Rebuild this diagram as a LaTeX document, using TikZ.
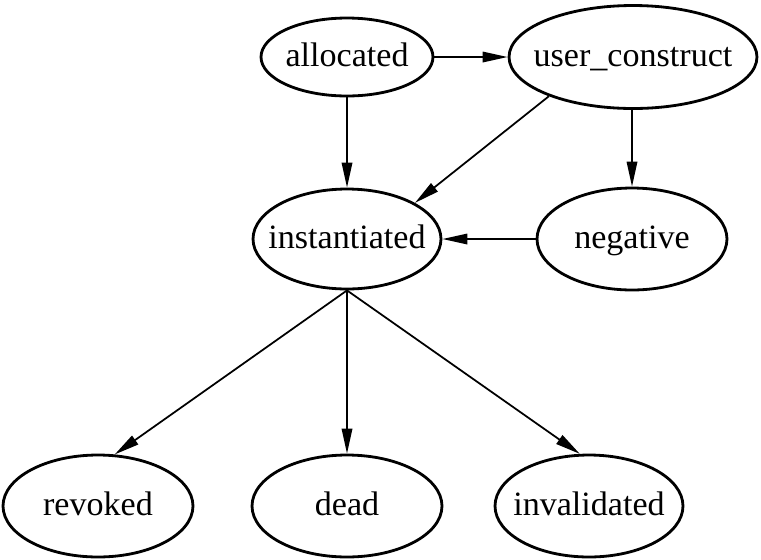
\documentclass[tikz,border=0pt]{standalone}
\usepackage{fontspec}
\setmainfont{Liberation Serif}
\usetikzlibrary{arrows.meta,shapes.geometric}

\newcommand{\statelbl}[1]{\makebox[0pt]{#1}}

\begin{document}
\begin{tikzpicture}[x=0.02cm, y=0.02cm, line width=1pt, every node/.style={ellipse,draw,line width=1.6pt,inner sep=0pt,minimum width=3.8cm,minimum height=2.04cm,text height=14pt,text depth=3pt,font=\fontsize{19.4}{23}\selectfont}, >={Triangle[length=5mm,width=2.1mm]}]
\useasboundingbox (0,0) rectangle (761,-559);
\node (alloc) [minimum width=3.44cm,minimum height=1.56cm] at (347,-57) {\statelbl{allocated}};
\node (uc) [minimum width=4.96cm,minimum height=2.06cm] at (633,-57) {\statelbl{user\_construct}};
\node (inst) [minimum width=3.76cm,minimum height=2cm] at (347,-239) {\statelbl{instantiated}};
\node (neg) at (632,-239) {\statelbl{negative}};
\node (rev) at (98,-506) {\statelbl{revoked}};
\node (dead) at (347,-506) {\statelbl{dead}};
\node (inval) [minimum width=3.76cm] at (589,-506) {\statelbl{invalidated}};
\draw[->] (alloc) -- (uc);
\draw[->] (alloc) -- (inst);
\draw[->] (uc.205) -- (inst.28);
\draw[->] (uc.south -| neg) -- (neg);
\draw[->] (neg) -- (inst);
\draw[->] (inst.south) -- (rev.72);
\draw[->] (inst) -- (dead);
\draw[->] (inst.south) -- (inval.100);
\end{tikzpicture}
\end{document}
